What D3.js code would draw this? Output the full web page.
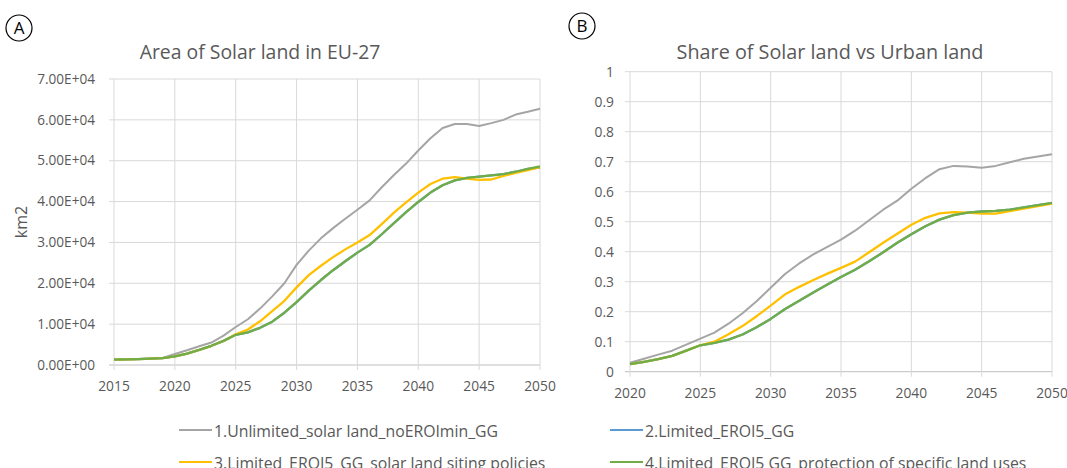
<!DOCTYPE html>
<html><head><meta charset="utf-8">
<script src="https://cdn.jsdelivr.net/npm/d3@7"></script>
<style>body{margin:0;background:#fff}svg{display:block;font-family:"Open Sans",sans-serif}</style>
</head><body>
<svg id="c" width="1067" height="468"></svg>
<script>
// ---- data ----
const yearsA = d3.range(2015, 2051);
const yearsB = d3.range(2020, 2051);
const seriesNames = ["1.Unlimited_solar land_noEROImin_GG","2.Limited_EROI5_GG","3.Limited_EROI5_GG_solar land siting policies","4.Limited_EROI5 GG_protection of specific land uses"];
const seriesColors = ["#a5a5a5","#5b9bd5","#ffc000","#70ad47"];

const areaUnlimited = [1300,1400,1450,1550,1700,2700,3600,4600,5500,7200,9300,11200,13800,16800,20000,24500,28000,31000,33500,35800,38000,40300,43500,46500,49300,52500,55500,58000,59000,59000,58500,59200,60000,61300,62000,62700];
const areaEroi5 = [1300,1400,1450,1550,1700,2100,2800,3700,4700,5900,7400,8000,9100,10600,12800,15400,18200,20800,23200,25400,27500,29400,32000,34700,37400,39900,42200,44000,45200,45800,46100,46400,46700,47300,48000,48300];
const areaSiting = [1300,1400,1450,1550,1700,2100,2800,3700,4700,5900,7500,8700,10700,13200,15700,19000,22000,24300,26400,28300,30000,31800,34500,37300,39800,42200,44300,45600,46000,45600,45300,45400,46300,47000,47700,48400];
const areaProtect = [1300,1400,1450,1550,1700,2100,2800,3700,4700,5900,7400,8000,9100,10600,12800,15400,18200,20800,23200,25400,27500,29400,32000,34700,37400,39900,42200,44000,45200,45800,46100,46400,46700,47300,48000,48600];

const shareUnlimited = [0.03,0.043,0.057,0.07,0.09,0.11,0.13,0.16,0.195,0.235,0.28,0.325,0.36,0.39,0.415,0.44,0.47,0.505,0.54,0.57,0.61,0.645,0.675,0.686,0.684,0.68,0.686,0.698,0.71,0.717,0.725];
const shareEroi5 = [0.025,0.033,0.042,0.053,0.07,0.088,0.096,0.107,0.124,0.148,0.176,0.208,0.236,0.263,0.29,0.316,0.34,0.368,0.398,0.43,0.458,0.485,0.507,0.522,0.53,0.534,0.536,0.54,0.548,0.555,0.562];
const shareSiting = [0.025,0.033,0.042,0.053,0.07,0.088,0.1,0.125,0.152,0.185,0.22,0.257,0.282,0.305,0.326,0.346,0.367,0.398,0.43,0.46,0.49,0.513,0.528,0.532,0.53,0.527,0.527,0.535,0.544,0.552,0.56];
const shareProtect = [0.025,0.033,0.042,0.053,0.07,0.088,0.096,0.107,0.124,0.148,0.176,0.208,0.236,0.263,0.29,0.316,0.34,0.368,0.398,0.43,0.458,0.485,0.507,0.522,0.53,0.534,0.536,0.54,0.548,0.555,0.563];

const xTicksA = [2015,2020,2025,2030,2035,2040,2045,2050];
const yTicksA = [0,10000,20000,30000,40000,50000,60000,70000];
const xTicksB = [2020,2025,2030,2035,2040,2045,2050];
const yTicksB = [0,0.1,0.2,0.3,0.4,0.5,0.6,0.7,0.8,0.9,1];

const svg = d3.select("#c");
const txt = "#595959", grid = "#d9d9d9", axisC = "#bfbfbf";

function panel(o){
  const x = d3.scaleLinear().domain(o.xd).range([o.x0,o.x1]);
  const y = d3.scaleLinear().domain(o.yd).range([o.y0,o.y1]);
  const g = svg.append("g");
  g.selectAll(".hg").data(o.yt).join("line")
    .attr("x1",o.x0-5).attr("x2",o.x1).attr("y1",d=>y(d)).attr("y2",d=>y(d))
    .attr("stroke",d=>d===0?axisC:grid).attr("stroke-width",1);
  g.selectAll(".vg").data(o.xt).join("line")
    .attr("x1",d=>x(d)).attr("x2",d=>x(d)).attr("y1",o.y1).attr("y2",o.y0+5)
    .attr("stroke",grid).attr("stroke-width",1);
  g.selectAll(".yl").data(o.yt).join("text")
    .attr("x",o.x0-o.ylOff).attr("y",d=>y(d)).attr("dy","0.35em")
    .attr("text-anchor","end").attr("fill",txt).style("font-size",o.ylSize+"px")
    .text(o.yfmt);
  g.selectAll(".xl").data(o.xt).join("text")
    .attr("x",d=>x(d)).attr("y",o.y0+o.xlOff)
    .attr("text-anchor","middle").attr("fill",txt).style("font-size","13.8px")
    .text(d=>d);
  const line = d3.line().x((d,i)=>x(o.years[i])).y(d=>y(d));
  o.series.forEach((s,i)=>{
    g.append("path").attr("d",line(s)).attr("fill","none")
      .attr("stroke",seriesColors[i]).attr("stroke-width",i===0?2:2.3)
      .attr("stroke-linejoin","round");
  });
  g.append("text").attr("x",o.tx).attr("y",59).attr("text-anchor","middle")
    .attr("fill",txt).style("font-size",o.tSize+"px").text(o.title);
  g.append("circle").attr("cx",o.cx).attr("cy",o.cy).attr("r",13)
    .attr("fill","none").attr("stroke","#000").attr("stroke-width",1.2);
  g.append("text").attr("x",o.cx).attr("y",o.cy).attr("dy","0.36em").attr("text-anchor","middle")
    .style("font-size","17px").attr("fill","#000").text(o.letter);
}

const fmtE = d => d3.format(".2e")(d).replace(/e([+-])(\d)$/,"E$10$2");

panel({xd:[2015,2050],yd:[0,70000],x0:114,x1:540,y0:365,y1:79,xt:xTicksA,yt:yTicksA,
  years:yearsA,series:[areaUnlimited,areaEroi5,areaSiting,areaProtect],
  yfmt:fmtE,ylOff:19,ylSize:13.6,xlOff:26,title:"Area of Solar land in EU-27",tSize:19.4,tx:260,letter:"A",cx:19,cy:28});
panel({xd:[2020,2050],yd:[0,1],x0:630,x1:1052,y0:371.7,y1:71.7,xt:xTicksB,yt:yTicksB,
  years:yearsB,series:[shareUnlimited,shareEroi5,shareSiting,shareProtect],
  yfmt:d=>d3.format("~g")(d),ylOff:16,ylSize:13.8,xlOff:26,title:"Share of Solar land vs Urban land",tSize:19.8,tx:830,letter:"B",cx:582,cy:26});

svg.append("text").attr("transform","translate(27,222) rotate(-90)").attr("text-anchor","middle")
  .attr("fill",txt).style("font-size","16px").text("km2");

const legPos = [[179,430],[610,430],[179,462],[610,462]];
const leg = svg.append("g");
seriesNames.forEach((n,i)=>{
  const [lx,ly] = legPos[i];
  leg.append("line").attr("x1",lx).attr("x2",lx+33).attr("y1",ly).attr("y2",ly)
    .attr("stroke",seriesColors[i]).attr("stroke-width",2);
  leg.append("text").attr("x",lx+35).attr("y",ly+6.5).attr("fill",txt)
    .style("font-size","15.8px").text(n);
});
</script>
</body></html>
